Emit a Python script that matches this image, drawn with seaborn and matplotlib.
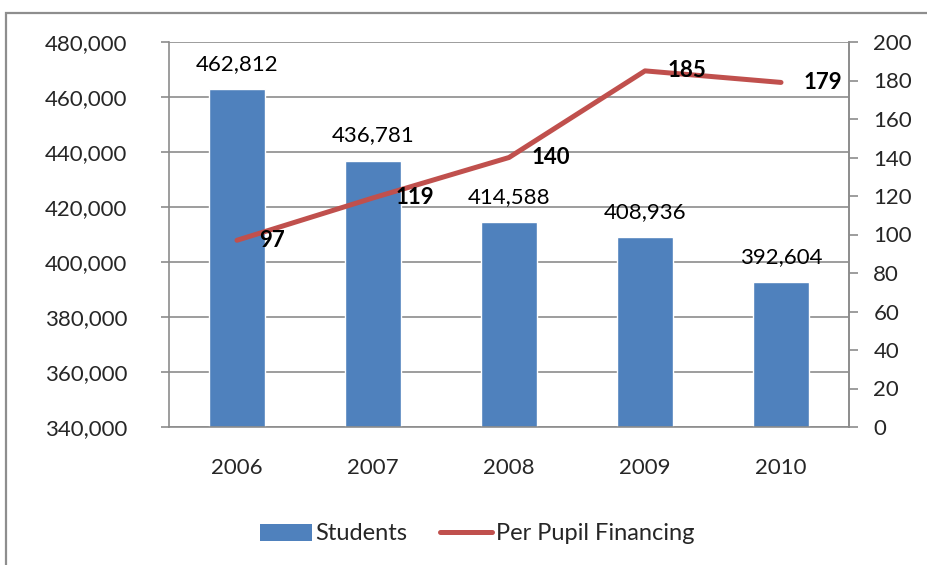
import matplotlib
matplotlib.use("Agg")
import matplotlib.pyplot as plt
import matplotlib.ticker as mticker
from matplotlib.patches import Rectangle
from matplotlib.lines import Line2D
from matplotlib.patches import Patch
import numpy as np
import pandas as pd
import seaborn as sns

years = ["2006", "2007", "2008", "2009", "2010"]
students = [462812, 436781, 414588, 408936, 392604]
per_pupil = [97, 119, 140, 185, 179]
left_ticks = [340000, 360000, 380000, 400000, 420000, 440000, 460000, 480000]
right_ticks = [0, 20, 40, 60, 80, 100, 120, 140, 160, 180, 200]

BLUE = "#4F81BD"
RED = "#C0504D"
GRID = "#8C8C8C"

sns.set_style("white")
plt.rcParams["font.family"] = ["Lato", "DejaVu Sans"]
FS = 16

df = pd.DataFrame({"year": years, "students": students, "per_pupil": per_pupil})

fig = plt.figure(figsize=(9.28, 5.65), dpi=100)
W, H = 928, 565

# outer chart frame
fig.patches.append(Rectangle((6 / W, -0.1), 1.2, (H - 13) / H + 0.1,
                             transform=fig.transFigure, fill=False,
                             edgecolor="#8E8E8E", linewidth=1.6))

ax = fig.add_axes([169 / W, (H - 427) / H, 680 / W, 385 / H])
sns.barplot(data=df, x="year", y="students", color=BLUE, width=0.41,
            saturation=1, ax=ax, zorder=2)
ax.set_ylim(340000, 480000)
ax.set_xlim(-0.5, len(years) - 0.5)
ax.set_yticks(left_ticks)
ax.yaxis.set_major_formatter(mticker.FuncFormatter(lambda v, p: f"{int(v):,}"))
ax.grid(axis="y", color=GRID, linewidth=1.2, zorder=0)
ax.grid(axis="x", visible=False)
ax.set_axisbelow(True)
ax.set_xlabel("")
ax.set_ylabel("")

# category boundary ticks on x
ax.set_xticks(np.arange(len(years)))
ax.set_xticklabels(years)
ax.set_xticks(np.arange(len(years) + 1) - 0.5, minor=True)
ax.tick_params(axis="x", which="major", length=0, pad=22, labelsize=FS)
ax.tick_params(axis="x", which="minor", length=6, width=1.2, color=GRID, direction="out")
ax.tick_params(axis="y", length=6, width=1.2, color=GRID, direction="out",
               labelsize=FS, pad=24, left=True)
for s in ["left", "bottom", "right"]:
    ax.spines[s].set_color(GRID)
    ax.spines[s].set_linewidth(1.2)
ax.spines["top"].set_visible(False)

for i, v in enumerate(students):
    ax.annotate(f"{v:,}", (i, v), xytext=(0, 11), textcoords="offset points",
                ha="center", va="bottom", fontsize=FS, color="black")

ax2 = ax.twinx()
sns.lineplot(x=np.arange(len(years)), y=per_pupil, color=RED, linewidth=3.6,
             ax=ax2, zorder=3)
ax2.set_ylim(0, 200)
ax2.set_yticks(right_ticks)
ax2.tick_params(axis="y", length=6.5, width=1.2, color=GRID, direction="out",
                labelsize=FS, pad=11)
ax2.set_ylabel("")
for s in ["left", "bottom", "top"]:
    ax2.spines[s].set_visible(False)
ax2.spines["right"].set_color(GRID)
ax2.spines["right"].set_linewidth(1.2)

for i, v in enumerate(per_pupil):
    ax2.annotate(f"{v}", (i, v), xytext=(16, 0), textcoords="offset points",
                 ha="left", va="center", fontsize=FS, fontweight="bold", color="black")

handles = [Patch(facecolor=BLUE, edgecolor="none"),
           Line2D([0], [0], color=RED, linewidth=3.6)]
fig.legend(handles, ["Students", "Per Pupil Financing"], loc="center",
           bbox_to_anchor=(477 / W, (H - 534) / H), ncol=2, frameon=False,
           fontsize=17, handlelength=2.2, handletextpad=0.15, columnspacing=1.4)

fig.savefig("out.png", dpi=100)
